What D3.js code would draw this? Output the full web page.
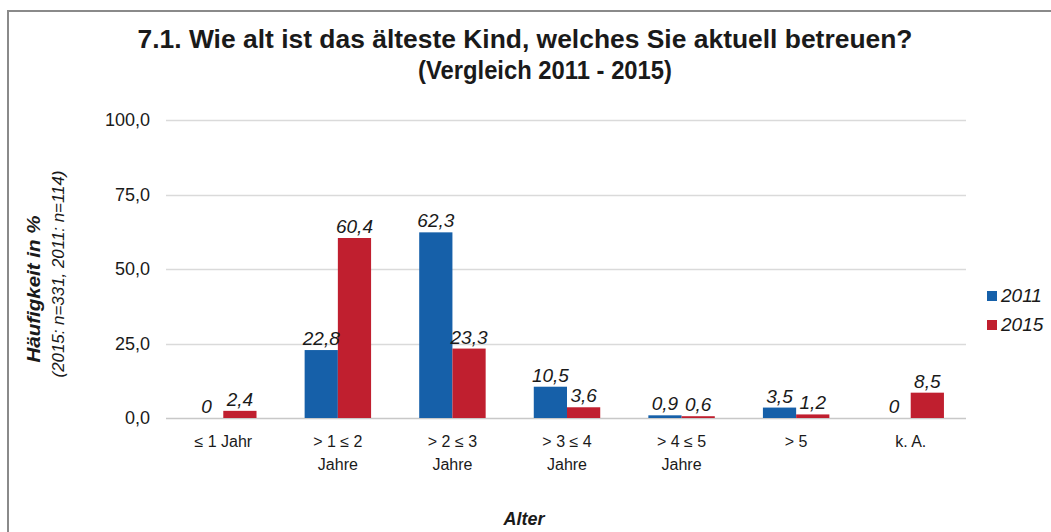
<!DOCTYPE html>
<html>
<head>
<meta charset="utf-8">
<script src="https://cdn.jsdelivr.net/npm/d3@7"></script>
<style>
  body { margin: 0; background: #fff; }
  svg text { font-family: "Liberation Sans", Arial, sans-serif; fill: #1a1a1a; }
</style>
</head>
<body>
<div id="chart"></div>
<script>
// data
var categories = ["≤ 1 Jahr", "> 1 ≤ 2|Jahre", "> 2 ≤ 3|Jahre", "> 3 ≤ 4|Jahre", "> 4 ≤ 5|Jahre", "> 5", "k. A."];
var series = ["2011", "2015"];
var values2011 = [0, 22.8, 62.3, 10.5, 0.9, 3.5, 0];
var values2015 = [2.4, 60.4, 23.3, 3.6, 0.6, 1.2, 8.5];
var yTicks = [0, 25, 50, 75, 100];
var colors = ["#1660a9", "#c01f2f"];

var width = 1051, height = 532;
var margin = {top: 120, left: 166, right: 83, bottom: 114};

var svg = d3.select("#chart").append("svg")
    .attr("width", width)
    .attr("height", height);

// frame of the original figure
svg.append("path")
    .attr("d", "M8,560 L8,11 L1060,11")
    .attr("fill", "none")
    .attr("stroke", "#8a8a8a")
    .attr("stroke-width", 2);

var x = d3.scaleBand()
    .domain(categories)
    .range([margin.left, width - margin.right])
    .paddingInner(0.42)
    .paddingOuter(0.21);

var xs = d3.scaleBand()
    .domain(series)
    .range([0, x.bandwidth()]);

var y = d3.scaleLinear()
    .domain([0, 100])
    .range([height - margin.bottom, margin.top]);

var fmt = function (v) { return v === 0 ? "0" : d3.format(".1f")(v).replace(".", ","); };

// gridlines
svg.append("g")
    .selectAll("line")
    .data(yTicks)
    .enter().append("line")
    .attr("x1", margin.left)
    .attr("x2", width - margin.right - 2)
    .attr("y1", function (d) { return Math.round(y(d)) + 0.5; })
    .attr("y2", function (d) { return Math.round(y(d)) + 0.5; })
    .attr("stroke", function (d) { return d === 0 ? "#c8c8c8" : "#dadada"; })
    .attr("stroke-width", 1.5);

// y axis labels
var yAxis = d3.axisLeft(y).tickValues(yTicks).tickSize(0).tickPadding(16)
    .tickFormat(function (d) { return d3.format(".1f")(d).replace(".", ","); });
var gy = svg.append("g")
    .attr("transform", "translate(" + margin.left + ",0)")
    .call(yAxis);
gy.select(".domain").remove();
gy.selectAll("text")
    .style("font-size", "18px")
    .style("font-family", "'Liberation Sans', Arial, sans-serif")
    .attr("fill", "#1a1a1a");

// bars
var rows = categories.map(function (c, i) {
  return {cat: c, vals: [{s: "2011", v: values2011[i]}, {s: "2015", v: values2015[i]}]};
});

var groups = svg.append("g")
    .selectAll("g")
    .data(rows)
    .enter().append("g")
    .attr("transform", function (d) { return "translate(" + x(d.cat) + ",0)"; });

groups.selectAll("rect")
    .data(function (d) { return d.vals; })
    .enter().append("rect")
    .attr("x", function (d) { return xs(d.s); })
    .attr("width", xs.bandwidth())
    .attr("y", function (d) { return y(d.v); })
    .attr("height", function (d) { return y(0) - y(d.v); })
    .attr("fill", function (d, i) { return colors[i]; });

groups.selectAll("text.val")
    .data(function (d) { return d.vals; })
    .enter().append("text")
    .attr("class", "val")
    .attr("x", function (d) { return xs(d.s) + xs.bandwidth() / 2; })
    .attr("y", function (d) { return y(d.v) - 5; })
    .attr("text-anchor", "middle")
    .style("font-size", "19px")
    .style("font-style", "italic")
    .text(function (d) { return fmt(d.v); });

// x axis labels
var xl = svg.append("g")
    .selectAll("text")
    .data(categories)
    .enter().append("text")
    .attr("x", function (d) { return x(d) + x.bandwidth() / 2; })
    .attr("y", 447)
    .attr("text-anchor", "middle")
    .style("font-size", "16px");
xl.each(function (d) {
  var parts = d.split("|");
  var t = d3.select(this);
  parts.forEach(function (p, i) {
    t.append("tspan")
      .attr("x", x(d) + x.bandwidth() / 2)
      .attr("dy", i === 0 ? 0 : 23)
      .text(p);
  });
});

// axis titles
svg.append("text")
    .attr("x", 524)
    .attr("y", 525)
    .attr("text-anchor", "middle")
    .style("font-size", "18px")
    .style("font-weight", "bold")
    .style("font-style", "italic")
    .text("Alter");

svg.append("text")
    .attr("transform", "translate(40,289) rotate(-90)")
    .attr("text-anchor", "middle")
    .attr("textLength", 147)
    .attr("lengthAdjust", "spacingAndGlyphs")
    .style("font-size", "18px")
    .style("font-weight", "bold")
    .style("font-style", "italic")
    .text("Häufigkeit in %");

svg.append("text")
    .attr("transform", "translate(64,274) rotate(-90)")
    .attr("text-anchor", "middle")
    .attr("textLength", 207)
    .attr("lengthAdjust", "spacingAndGlyphs")
    .style("font-size", "17px")
    .style("font-style", "italic")
    .text("(2015: n=331, 2011: n=114)");

// title
svg.append("text")
    .attr("x", 525)
    .attr("y", 48)
    .attr("text-anchor", "middle")
    .attr("textLength", 775)
    .attr("lengthAdjust", "spacingAndGlyphs")
    .style("font-size", "25px")
    .style("font-weight", "bold")
    .text("7.1. Wie alt ist das älteste Kind, welches Sie aktuell betreuen?");

svg.append("text")
    .attr("x", 545)
    .attr("y", 79)
    .attr("text-anchor", "middle")
    .attr("textLength", 254)
    .attr("lengthAdjust", "spacingAndGlyphs")
    .style("font-size", "25px")
    .style("font-weight", "bold")
    .text("(Vergleich 2011 - 2015)");

// legend
var leg = svg.append("g")
    .selectAll("g")
    .data(series)
    .enter().append("g")
    .attr("transform", function (d, i) { return "translate(987," + (291 + i * 29) + ")"; });
leg.append("rect")
    .attr("width", 10)
    .attr("height", 10)
    .attr("fill", function (d, i) { return colors[i]; });
leg.append("text")
    .attr("x", 14)
    .attr("y", 11)
    .style("font-size", "19px")
    .style("font-style", "italic")
    .text(function (d) { return d; });
</script>
</body>
</html>
